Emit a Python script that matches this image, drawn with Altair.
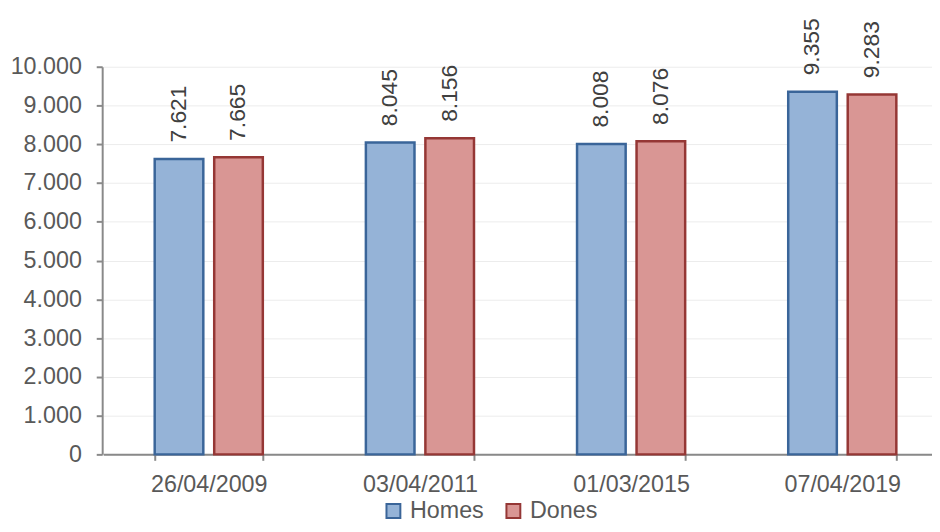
import altair as alt
import pandas as pd

dates = ["26/04/2009", "03/04/2011", "01/03/2015", "07/04/2019"]
homes = [7621, 8045, 8008, 9355]
dones = [7665, 8156, 8076, 9283]
series = ["Homes", "Dones"]
fills = ["#95B3D7", "#D99694"]
strokes = ["#3A6599", "#953735"]
y_ticks = list(range(0, 10001, 1000))

rows = []
for d, h, w in zip(dates, homes, dones):
    rows.append({"data": d, "sexe": "Homes", "valor": h})
    rows.append({"data": d, "sexe": "Dones", "valor": w})
df = pd.DataFrame(rows)

FONT = "Liberation Sans"
AXIS_COL = "#898989"
TXT_COL = "#595959"
FS = 23.5
fmt_axis = "replace(format(datum.value, ','), ',', '.')"

base = alt.Chart(df).encode(
    x=alt.X(
        "data:N", sort=dates, title=None,
        scale=alt.Scale(range=[1, 853], paddingInner=0.488, paddingOuter=0.244),
        axis=alt.Axis(labelAngle=0, tickBand="extent", tickSize=6, labelPadding=12,
                      domainColor=AXIS_COL, domainWidth=2, tickColor=AXIS_COL, tickWidth=2,
                      labelFontSize=FS, labelColor=TXT_COL, labelFont=FONT, grid=False),
    ),
    xOffset=alt.XOffset("sexe:N", sort=series, scale=alt.Scale(domain=series, paddingInner=0.183)),
    y=alt.Y(
        "valor:Q", title=None,
        scale=alt.Scale(domain=[0, 10000], nice=False),
        axis=alt.Axis(values=y_ticks, labelExpr=fmt_axis, tickSize=6, labelPadding=15,
                      domainColor=AXIS_COL, domainWidth=2, tickColor=AXIS_COL, tickWidth=2,
                      labelFontSize=FS, labelColor=TXT_COL, labelFont=FONT,
                      grid=True, gridColor="#ececec", gridWidth=1),
    ),
)

legend = alt.Legend(orient="none", legendX=282, legendY=436, direction="horizontal", title=None,
                    symbolType="square", symbolSize=196, symbolStrokeWidth=2,
                    labelFontSize=FS, labelColor=TXT_COL, labelFont=FONT,
                    columnPadding=18, labelOffset=5)

bars = base.mark_bar(strokeWidth=2.5).encode(
    fill=alt.Fill("sexe:N", sort=series, scale=alt.Scale(domain=series, range=fills), legend=legend),
    stroke=alt.Stroke("sexe:N", sort=series, scale=alt.Scale(domain=series, range=strokes), legend=legend),
)

labels = base.transform_calculate(
    lbl="replace(format(datum.valor, ','), ',', '.')"
).mark_text(angle=270, align="left", baseline="middle", dx=16.5, fontSize=23,
            font=FONT, color="#404040").encode(text="lbl:N")

chart = alt.layer(bars, labels).properties(
    width=832, height=391,
    autosize=alt.AutoSizeParams(type="none"),
    padding={"left": 95, "top": 57, "right": 5, "bottom": 68},
).configure_view(stroke=None)

chart.save("out.html", embed_options={"renderer": "svg", "actions": False})
